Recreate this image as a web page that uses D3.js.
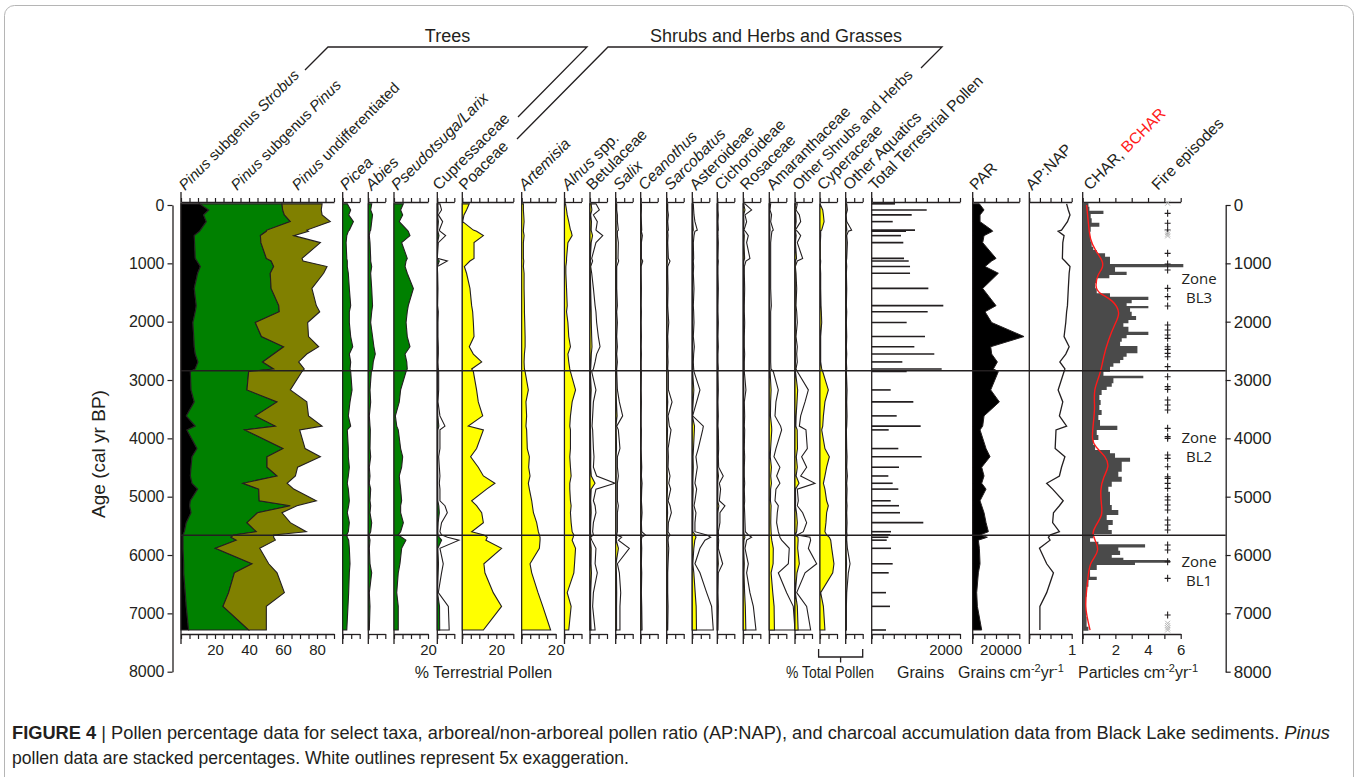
<!DOCTYPE html>
<html>
<head>
<meta charset="utf-8">
<script src="https://cdn.jsdelivr.net/npm/d3@7"></script>
<style>
  body { margin: 0; background: #fff; }
  svg { display: block; font-family: "Liberation Sans", Arial, Helvetica, sans-serif; }
  text { white-space: pre; }
</style>
</head>
<body>
<svg id="chart" width="1358" height="777"></svg>
<script>
// ---------------- data ----------------
// ages (cal yr BP) of the pollen samples
const sampleAges = [-20, 85, 170, 285, 430, 450, 525, 645, 915, 960, 1055, 1170, 1430, 1725, 1830, 2015, 2255, 2430, 2555, 2690, 2810, 2855, 3170, 3375, 3615, 3790, 3855, 4175, 4315, 4495, 4645, 4770, 4870, 5070, 5155, 5275, 5445, 5600, 5655, 5695, 5745, 5885, 6150, 6305, 6645, 6880, 7285];

// Pinus percentages (stacked in the first panel)
const pinusStrobus = [11, 16.3, 13.3, 14.9, 11.4, 11, 7.8, 8, 8.4, 9.4, 11.4, 9.8, 7.8, 9, 8.4, 7, 7.5, 7.8, 8.4, 10, 8.4, 5.5, 5.9, 7.8, 3.1, 8.4, 3.5, 9.4, 6.5, 5.9, 5.5, 6.5, 9.8, 5.5, 5.1, 5.9, 3.1, 2, 1.2, 1.2, 1.2, 1.2, 1.6, 1.6, 2.5, 3.1, 4.5];
const pinusSubPinus = [48.4, 43.5, 47.5, 49.4, 39.2, 39.2, 38.9, 39, 41.8, 43.6, 43.1, 42.7, 45.2, 48.5, 49.4, 36.7, 39.8, 52.6, 46.1, 38, 46.1, 34.3, 32.9, 48.7, 40.6, 47.1, 34, 50.6, 44.1, 44.7, 51, 30, 35.9, 40.5, 59.2, 39.1, 35.7, 42.3, 29.8, 28.2, 31.3, 19, 40.2, 29.8, 25.5, 21.6, 35.3];
const pinusUndiff = [23.6, 22.7, 22.2, 23.5, 23.4, 24.8, 19.6, 35, 21, 18.8, 31.4, 31.4, 24, 22.1, 23.8, 30.8, 27.7, 20.6, 19.5, 21.2, 18, 31.4, 25.5, 17.5, 31.3, 27.5, 32.3, 13, 31.4, 18, 10.8, 25.9, 20.6, 33.6, 3.9, 14.4, 25.5, 29.4, 23.5, 25.1, 23, 26.1, 9.8, 25.1, 32.8, 25.5, 10.4];

// other trees (% terrestrial pollen)
const picea = [2.7, 4.7, 3.5, 6.3, 3.9, 3.3, 2.4, 2, 2.4, 2.7, 2.7, 3.3, 3.9, 4.7, 3.9, 3.9, 4.7, 5.9, 3.9, 4.7, 4.3, 4.7, 5.5, 4.3, 3.3, 4.7, 2.7, 3.3, 3.3, 3.9, 3.3, 2.7, 3.3, 3.9, 3.5, 2.7, 3.9, 3.3, 2.4, 2.7, 3.5, 3.9, 4.3, 3.9, 3.5, 3.1, 2.4];
const abies = [2, 1.4, 2.5, 2, 1.4, 1, 0.6, 1, 1.4, 1.4, 2, 1.4, 2, 2.5, 2, 1.4, 2.5, 3.3, 4.1, 2.9, 2.5, 1.8, 1, 1.4, 0.6, 1, 1.2, 1, 1.4, 0.6, 1, 0.6, 1.4, 1, 1.4, 1, 2, 1.4, 0.6, 0.6, 1, 0.6, 1, 2, 0.6, 1, 0.6];
const pseudotsugaLarix = [5.5, 3.9, 5.1, 3.1, 7.8, 8.4, 9.4, 4.5, 7.8, 7.1, 6.5, 7.8, 11.4, 8.4, 7.8, 7.1, 7.8, 9.4, 6.5, 7.5, 7.8, 7.1, 3.9, 3.1, 0.8, 1.6, 2.5, 3.9, 5.1, 4.5, 3.1, 3.5, 3.9, 4.5, 3.9, 3.9, 5.5, 3.9, 2.5, 4.5, 7, 4.5, 3.5, 2.5, 1.6, 2.5, 2.5];
const cupressaceae = [0.31, 0.5, 0.12, 0.63, 0.24, 0.31, 0.98, 0.12, 0, 1.18, 0, 0.04, 0.08, 0.04, 0.12, 0.08, 0.08, 0.12, 0.12, 0.08, 0.12, 0.16, 0.16, 0.08, 0.31, 0.9, 0.31, 0.31, 0.16, 0.24, 0.31, 0.24, 0.31, 0.31, 0.9, 1.18, 0.5, 0.31, 0.5, 1.2, 2.55, 0.31, 0.7, 0.5, 0.12, 1.3, 1.4];

// shrubs, herbs and grasses (% terrestrial pollen)
const poaceae = [4.1, 2.5, 1, 0.2, 6.5, 8.4, 12.4, 6.9, 6.9, 4.5, 1.2, 2.5, 4.5, 5.5, 6.1, 6.5, 6.9, 4.1, 6.5, 11.4, 5.5, 6.5, 8.4, 9.4, 12, 3.5, 12.4, 8.4, 4.9, 9.4, 12.4, 19.2, 14.3, 5.5, 8.4, 11.4, 12.4, 5.5, 12.7, 14.7, 13.9, 23.1, 12.7, 13.3, 18.2, 23.1, 12.4];
const artemisia = [1, 1, 1.2, 1.4, 1, 1, 1.4, 1, 1, 1.2, 1, 1.4, 1.4, 1.6, 1.6, 1.8, 2, 2, 1.6, 1.4, 1.6, 2, 3.9, 2.5, 2.9, 2.5, 2.9, 3.3, 4.5, 4.1, 4.9, 3.9, 4.5, 5.9, 6.3, 6.9, 8.8, 9.8, 10.4, 10.8, 10.8, 10.4, 4.9, 5.9, 9.6, 12.4, 17];
const alnus = [0.6, 1.2, 1.6, 2.5, 3.5, 3.9, 4.5, 2, 1.2, 1.2, 0.8, 0.8, 1.2, 1.6, 1.2, 2, 2.5, 3.5, 2, 2.5, 3.1, 3.5, 6.5, 4.5, 3.5, 3.1, 3.5, 3.5, 3.1, 3.5, 3.9, 3.1, 3.1, 3.5, 3.9, 3.5, 3.9, 4.5, 5.5, 5.1, 4.5, 6.5, 5.9, 5.5, 1.6, 3.9, 2.5];
const betulaceae = [0.7, 1.1, 0.4, 0.86, 0.7, 0.86, 1.5, 0.7, 0.2, 0.31, 0.08, 0.2, 0.4, 0.6, 0.7, 0.78, 0.98, 1.18, 0.78, 0.6, 0.4, 0.2, 0.7, 0.4, 0.31, 0.24, 0.31, 0.4, 0.47, 0.4, 0.78, 2.94, 0.7, 0.4, 0.6, 0.7, 0.4, 0.31, 0.4, 0.08, 0.2, 0.7, 0.6, 0.86, 0.4, 0.31, 0.6];
const salix = [0.12, 0.12, 0.2, 0.2, 0.31, 0.2, 0.2, 0.31, 0.27, 0.35, 0.12, 0.12, 0.12, 0.2, 0.12, 0.2, 0.12, 0.2, 0.12, 0.2, 0.12, 0.12, 0.2, 0.43, 0.82, 0.12, 0.31, 0.5, 0.2, 0.2, 0.31, 0.2, 0.2, 0.2, 0.31, 0.2, 0.2, 0.2, 0.12, 0.7, 0.31, 1.6, 0.2, 0.43, 0.59, 0.5, 0.5];
const ceanothus = [0.08, 0.08, 0.04, 0.08, 0.12, 0.08, 0.2, 0.08, 0.08, 0.24, 0.04, 0.04, 0.08, 0.04, 0.08, 0.04, 0.08, 0.04, 0.08, 0.04, 0.04, 0.08, 0.04, 0.08, 0.04, 0.04, 0.08, 0.04, 0.08, 0.12, 0.08, 0.16, 0.12, 0.08, 0.12, 0.16, 0.08, 0.12, 0.55, 0.12, 0.08, 0.12, 0.08, 0.12, 0.08, 0.12, 0.16];
const sarcobatus = [0.12, 0.12, 0.2, 0.12, 0.2, 0.12, 0.16, 0.12, 0.2, 0.39, 0.12, 0.12, 0.16, 0.12, 0.16, 0.24, 0.12, 0.16, 0.12, 0.16, 0.12, 0.2, 0.2, 0.63, 0.16, 0.31, 0.51, 0.16, 0.2, 0.16, 0.39, 0.24, 0.47, 0.16, 0.39, 0.55, 0.2, 0.16, 0.39, 0.2, 0.16, 0.24, 0.16, 0.12, 0.12, 0.16, 0.12];
const asteroideae = [0.12, 0.16, 0.2, 0.31, 0.59, 0.31, 0.2, 0.12, 0.16, 0.12, 0.16, 0.12, 0.2, 0.12, 0.16, 0.2, 0.12, 0.24, 0.16, 0.12, 0.16, 0.2, 0.9, 0.51, 0.04, 1.3, 1.22, 0.7, 0.43, 0.59, 0.43, 0.31, 0.51, 0.31, 0.2, 0.43, 0.31, 0.31, 1.69, 2.16, 1.49, 0.9, 0.31, 0.9, 1.69, 2.27, 2.47];
const cichoroideae = [0.08, 0.08, 0.12, 0.08, 0.12, 0.08, 0.08, 0.12, 0.08, 0.12, 0.08, 0.08, 0.12, 0.08, 0.08, 0.12, 0.08, 0.12, 0.08, 0.08, 0.12, 0.08, 0.12, 0.08, 0.12, 0.08, 0.12, 0.16, 0.12, 0.16, 0.7, 0.24, 0.39, 0.24, 0.9, 0.31, 0.31, 0.12, 0.16, 0.12, 0.16, 0.12, 0.63, 0.12, 0.08, 0.12, 0.08];
const rosaceae = [0.2, 0.98, 0.2, 0.39, 0.08, 0.24, 0.59, 0.39, 0.78, 0.31, 0.12, 0.12, 0.16, 0.12, 0.12, 0.16, 0.12, 0.12, 0.16, 0.12, 0.12, 0.12, 0.31, 0.12, 0.16, 0.12, 0.16, 0.12, 0.16, 0.12, 0.12, 0.16, 0.12, 0.16, 0.12, 0.16, 0.2, 0.24, 0.59, 0.98, 0.39, 0.2, 0.59, 0.39, 0.78, 1.18, 1.49];
const amaranthaceae = [0.16, 0.08, 0.27, 0.16, 0.47, 0.31, 0.24, 0.16, 0.16, 0.16, 0.16, 0.16, 0.16, 0.24, 0.16, 0.16, 0.16, 0.16, 0.16, 0.16, 0.2, 0.47, 1.06, 0.78, 0.67, 1.33, 1.45, 0.78, 0.55, 1.25, 0.86, 1.25, 0.78, 0.67, 1.06, 0.94, 0.86, 1.06, 1.18, 1.25, 1.45, 2.35, 2.24, 1.06, 2.04, 2.82, 3.02];
const otherShrubsHerbs = [0.27, 0.12, 0.51, 0.67, 0.04, 0.27, 0.67, 0.27, 0.9, 0.27, 0.04, 0.12, 0.2, 0.12, 0.2, 0.27, 0.12, 0.27, 0.2, 0.27, 0.12, 0.27, 1.57, 1.18, 0.67, 0.51, 1.29, 1.45, 0.78, 1.37, 0.67, 2.35, 0.27, 0.39, 0.27, 0.9, 1.37, 0.98, 0.27, 1.76, 1.84, 1.57, 2.55, 1.18, 0.2, 1.37, 1.84];

// aquatics (% total pollen)
const cyperaceae = [0, 1.6, 2, 2.4, 1, 0.4, 0.4, 0.2, 0.2, 0.4, 0.2, 0.4, 0.4, 0.6, 0.8, 1, 0.4, 0.4, 0.4, 0.4, 1, 1.6, 4.9, 2.9, 2, 1.6, 1, 2.9, 5.5, 3.9, 2.9, 2, 2.9, 3.9, 4.9, 3.9, 3.5, 2.9, 3.9, 5.5, 6.3, 6.9, 8.2, 7.5, 0.4, 2, 2.9];
const otherAquatics = [0.12, 0.2, 0.04, 0.12, 0.7, 0.31, 0.12, 0.2, 0.12, 0.08, 0.12, 0.08, 0.12, 0.08, 0.12, 0.08, 0.12, 0.08, 0.12, 0.08, 0.12, 0.08, 0.16, 0.12, 0.16, 0.12, 0.08, 0.12, 0.16, 0.12, 0.2, 0.12, 0.16, 0.12, 0.16, 0.12, 0.16, 0.12, 0.16, 0.12, 0.12, 0.2, 0.51, 0.31, 0.12, 0.08, 0.08];

// pollen sums and ratios
const totalTerrestrial = [528, 1246, 906, 476, 981, 777, 663, 716, 732, 838, 868, 868, 1283, 1622, 1268, 792, 1207, 966, 1418, 694, 1585, 792, 430, 943, 566, 1109, 385, 603, 1132, 618, 377, 475, 603, 430, 618, 641, 1169, 437, 415, 377, 340, 437, 475, 385, 324, 415, 324];
const par = [2861, 4864, 3147, 3147, 8155, 8584, 4864, 4292, 10014, 8155, 5293, 11016, 4292, 10014, 5293, 8155, 22031, 7725, 8155, 10587, 8870, 11016, 7725, 11445, 4864, 4292, 3147, 5722, 7439, 3863, 4864, 3863, 5722, 3147, 3863, 4864, 5722, 6724, 3147, 6295, 2432, 2861, 3147, 2432, 1717, 2003, 3863];
const apNap = [0.88, 0.92, 0.96, 0.9, 0.76, 0.68, 0.82, 0.79, 0.78, 0.84, 0.96, 0.94, 0.92, 0.9, 0.88, 0.86, 0.82, 0.94, 0.86, 0.72, 0.84, 0.82, 0.68, 0.79, 0.71, 0.88, 0.63, 0.61, 0.84, 0.76, 0.71, 0.41, 0.55, 0.8, 0.71, 0.57, 0.55, 0.71, 0.5, 0.45, 0.49, 0.24, 0.41, 0.57, 0.41, 0.25, 0.25];

// charcoal accumulation (particles cm-2 yr-1)
const charAges = [-40, 29, 97, 154, 229, 303, 371, 457, 543, 629, 714, 771, 829, 886, 954, 1011, 1069, 1143, 1200, 1257, 1343, 1429, 1514, 1571, 1629, 1686, 1731, 1771, 1829, 1903, 1971, 2029, 2086, 2171, 2229, 2286, 2343, 2417, 2486, 2543, 2600, 2657, 2714, 2771, 2857, 2926, 2971, 3057, 3114, 3171, 3257, 3343, 3429, 3514, 3600, 3686, 3783, 3857, 3943, 4029, 4114, 4200, 4257, 4331, 4400, 4486, 4571, 4657, 4743, 4829, 4914, 5000, 5086, 5143, 5229, 5314, 5400, 5486, 5571, 5640, 5714, 5771, 5817, 5869, 5926, 6000, 6046, 6086, 6131, 6171, 6257, 6371, 6429, 6543, 6714, 6886, 7057, 7171, 7229, 7300];
const charValues = [0.35, 0.41, 1.27, 0.49, 0.55, 1.02, 0.49, 0.45, 0.49, 0.55, 0.65, 0.86, 1.37, 1.67, 1.67, 6.16, 1.98, 2.69, 1.63, 0.86, 0.76, 0.86, 1.67, 4.02, 3.0, 2.69, 4.02, 2.9, 3.0, 3.27, 2.8, 2.49, 2.8, 4.02, 2.69, 2.39, 2.29, 3.35, 3.35, 2.69, 2.49, 2.29, 1.88, 1.67, 1.27, 3.71, 1.88, 1.78, 1.47, 1.16, 1.02, 1.1, 1.02, 1.16, 0.96, 1.06, 2.12, 0.86, 0.96, 0.65, 0.76, 1.67, 1.98, 2.9, 2.39, 2.39, 2.18, 2.39, 1.78, 1.57, 1.67, 1.67, 1.67, 1.78, 2.18, 1.47, 1.84, 1.57, 1.78, 0.65, 0.45, 0.96, 3.82, 2.18, 2.29, 1.78, 2.49, 5.35, 3.2, 0.86, 0.45, 0.86, 0.35, 0.24, 0.2, 0.2, 0.24, 0.24, 0.35, 0.49];
// background charcoal (BCHAR)
const bcharAges = [0, 314, 600, 771, 971, 1086, 1200, 1400, 1514, 1629, 1857, 2029, 2314, 2600, 2886, 3171, 3457, 3743, 4029, 4143, 4314, 4486, 4657, 4886, 5171, 5314, 5514, 5629, 5800, 5914, 6029, 6143, 6314, 6600, 6886, 7171, 7286];
const bcharValues = [0.24, 0.35, 0.45, 0.76, 1.27, 1.22, 0.9, 0.76, 0.96, 1.88, 2.33, 1.98, 1.57, 1.27, 1.1, 0.65, 0.76, 0.65, 0.55, 0.76, 1.43, 1.63, 1.27, 1.06, 1.16, 1.22, 0.76, 0.55, 0.86, 0.96, 0.76, 0.45, 0.35, 0.24, 0.14, 0.35, 0.45];
// fire episodes and non-significant peaks
const fireEpisodeAges = [143, 314, 429, 829, 1011, 1114, 1429, 1571, 1731, 2057, 2143, 2229, 2286, 2429, 2474, 2543, 2600, 2771, 2943, 3114, 3160, 3343, 3429, 3514, 3829, 3971, 4000, 4286, 4343, 4486, 4657, 4686, 4771, 4857, 5000, 5057, 5143, 5229, 5400, 5486, 5571, 5829, 5914, 6114, 6400, 7029];
const minorPeakAges = [-30, 470, 500, 530, 7170, 7210, 7250, 7285];

// zones
const zoneBoundaries = [2842, 5660];
const zoneNames = [["Zone", "BL3"], ["Zone", "BL2"], ["Zone", "BL1"]];
const zoneLabelAges = [1350, 4080, 6200];
const ageTicks = [0, 1000, 2000, 3000, 4000, 5000, 6000, 7000, 8000];

// ---------------- drawing ----------------
const ink = "#231f20";
const GREEN = "#008000", OLIVE = "#808000", YELLOW = "#ffff00", RED = "#ff1a1a", CHARGREY = "#4a4a4a";
const FONT = "'Liberation Sans', Arial, Helvetica, sans-serif";
const svg = d3.select("#chart");

svg.append("rect").attr("x", 4.5).attr("y", 5.5).attr("width", 1349).attr("height", 820)
  .attr("rx", 10).attr("fill", "none").attr("stroke", "#b5b5b5").attr("stroke-width", 1);

const y = d3.scaleLinear().domain([0, 8000]).range([205, 671.7]);
const PX = 1.7;                       // pixels per percent
const pct = (left, max) => d3.scaleLinear().domain([0, max]).range([left, left + max * PX]);
const rows = vals => sampleAges.map((a, i) => ({ age: a, v: vals[i] }));

const gFrames = svg.append("g");
const gData = svg.append("g");
const gTop = svg.append("g");

// panel frame: vertical axis, top and bottom tick axes
function frame(x, step, labels, opts = {}) {
  const [x0] = x.range();
  const [d0, d1] = x.domain();
  const ticks = d3.range(d0, d1 + step / 2, step);
  const g = gFrames.append("g");
  g.append("line").attr("x1", x0).attr("x2", x0).attr("y1", 192).attr("y2", 644)
    .attr("stroke", ink).attr("stroke-width", 1.3);
  const top = g.append("g").attr("transform", "translate(0,202)")
    .call(d3.axisTop(x).tickValues(ticks).tickSize(4).tickSizeOuter(0).tickFormat(""));
  const bot = g.append("g").attr("transform", "translate(0,634)")
    .call(d3.axisBottom(x).tickValues(ticks).tickSize(5).tickSizeOuter(0).tickPadding(5)
      .tickFormat(d => labels.some(l => Math.abs(l - d) < 1e-9) ? (opts.fmt || d3.format("d"))(d) : ""));
  [top, bot].forEach(a => {
    a.select(".domain").attr("stroke", ink).attr("stroke-width", 1.3);
    a.selectAll(".tick line").attr("stroke", ink).attr("stroke-width", 1.2);
  });
  bot.selectAll("text").attr("font-size", 15).attr("font-family", FONT).attr("fill", ink);
  if (opts.anchorEnd) bot.selectAll("text").attr("text-anchor", "end").attr("dx", 2);
}

function fillArea(x, vals, fill, k = 1) {
  const area = d3.area().y(d => y(d.age)).x0(x(0)).x1(d => x(d.v * k));
  gData.append("path").datum(rows(vals)).attr("d", area)
    .attr("fill", fill).attr("stroke", ink).attr("stroke-width", 1.1).attr("stroke-linejoin", "miter");
}

// ---- stacked Pinus ----
const xPinus = pct(181, 90);
frame(xPinus, 5, [20, 40, 60, 80]);
const pinusRows = sampleAges.map((a, i) => ({ age: a, strobus: pinusStrobus[i], sub: pinusSubPinus[i], undiff: pinusUndiff[i] }));
const stacked = d3.stack().keys(["strobus", "sub", "undiff"])(pinusRows);
const pinusColors = ["#000000", GREEN, OLIVE];
stacked.forEach((s, i) => {
  const area = d3.area().y(d => y(d.data.age)).x0(d => xPinus(d[0])).x1(d => xPinus(d[1]));
  gData.append("path").datum(s).attr("d", area).attr("fill", pinusColors[i])
    .attr("stroke", ink).attr("stroke-width", 1.1);
});

// ---- single taxon panels ----
const taxa = [
  { vals: picea, left: 342.7, max: 10, fill: GREEN },
  { vals: abies, left: 368.3, max: 10, fill: GREEN },
  { vals: pseudotsugaLarix, left: 394, max: 20, fill: GREEN, labels: [20] },
  { vals: cupressaceae, left: 437.3, max: 10, fill: GREEN, exag: true },
  { vals: poaceae, left: 462.3, max: 30, fill: YELLOW, labels: [20] },
  { vals: artemisia, left: 521.7, max: 20, fill: YELLOW, labels: [20] },
  { vals: alnus, left: 564.5, max: 10, fill: YELLOW },
  { vals: betulaceae, left: 590, max: 10, fill: YELLOW, exag: true },
  { vals: salix, left: 615.7, max: 10, fill: YELLOW, exag: true },
  { vals: ceanothus, left: 640.7, max: 10, fill: YELLOW, exag: true },
  { vals: sarcobatus, left: 666.7, max: 10, fill: YELLOW, exag: true },
  { vals: asteroideae, left: 692.3, max: 10, fill: YELLOW, exag: true },
  { vals: cichoroideae, left: 717.3, max: 10, fill: YELLOW, exag: true },
  { vals: rosaceae, left: 743.3, max: 10, fill: YELLOW, exag: true },
  { vals: amaranthaceae, left: 769.3, max: 10, fill: YELLOW, exag: true },
  { vals: otherShrubsHerbs, left: 795, max: 10, fill: YELLOW, exag: true },
  { vals: cyperaceae, left: 820, max: 10, fill: YELLOW },
  { vals: otherAquatics, left: 845.7, max: 10, fill: YELLOW, exag: true }
];
taxa.forEach(t => {
  const x = pct(t.left, t.max);
  frame(x, 5, t.labels || []);
  if (t.exag) fillArea(x, t.vals, "#ffffff", 5);   // 5x exaggeration outline
  fillArea(x, t.vals, t.fill);
});

// ---- total terrestrial pollen (grains) ----
const xTT = d3.scaleLinear().domain([0, 2000]).range([871.7, 960]);
frame(xTT, 250, [2000], { anchorEnd: true });
gData.append("g").selectAll("line").data(rows(totalTerrestrial)).join("line")
  .attr("x1", xTT(0)).attr("x2", d => xTT(d.v)).attr("y1", d => y(d.age)).attr("y2", d => y(d.age))
  .attr("stroke", ink).attr("stroke-width", 1.6);

// ---- pollen accumulation rate ----
const xPAR = d3.scaleLinear().domain([0, 20000]).range([972.7, 1019.3]);
frame(xPAR, 5000, [20000], { anchorEnd: true });
gData.append("path").datum(rows(par))
  .attr("d", d3.area().y(d => y(d.age)).x0(xPAR(0)).x1(d => xPAR(d.v)))
  .attr("fill", "#000").attr("stroke", ink).attr("stroke-width", 1);

// ---- AP:NAP ----
const xAP = d3.scaleLinear().domain([0, 1]).range([1029.3, 1071.7]);
frame(xAP, 0.25, [1]);
gData.append("path").datum(rows(apNap))
  .attr("d", d3.line().x(d => xAP(d.v)).y(d => y(d.age)))
  .attr("fill", "none").attr("stroke", ink).attr("stroke-width", 1.3);

// ---- charcoal ----
const xCH = d3.scaleLinear().domain([0, 6]).range([1082.7, 1180.7]);
frame(xCH, 1, [2, 4, 6]);
const charRows = charAges.map((a, i) => ({ age: a, v: charValues[i] }));
gData.append("path").datum(charRows)
  .attr("d", d3.area().curve(d3.curveStepBefore).y(d => y(d.age)).x0(xCH(0)).x1(d => xCH(d.v)))
  .attr("fill", CHARGREY).attr("stroke", "none");
const bRows = bcharAges.map((a, i) => ({ age: a, v: bcharValues[i] }));
gData.append("path").datum(bRows)
  .attr("d", d3.line().curve(d3.curveBasis).x(d => xCH(d.v)).y(d => y(d.age)))
  .attr("fill", "none").attr("stroke", RED).attr("stroke-width", 1.4);
const fireX = xCH(5.2);
gData.append("g").selectAll("path").data(fireEpisodeAges).join("path")
  .attr("d", a => `M${fireX - 3},${y(a)}H${fireX + 3}M${fireX},${y(a) - 3.5}V${y(a) + 3.5}`)
  .attr("stroke", ink).attr("stroke-width", 1.1).attr("fill", "none");
gData.append("g").selectAll("path").data(minorPeakAges).join("path")
  .attr("d", a => `M${fireX - 2.5},${y(a) - 2.5}L${fireX + 2.5},${y(a) + 2.5}M${fireX - 2.5},${y(a) + 2.5}L${fireX + 2.5},${y(a) - 2.5}`)
  .attr("stroke", "#b8b8b8").attr("stroke-width", 1).attr("fill", "none");

// ---- zone boundaries ----
gTop.selectAll("line.zone").data(zoneBoundaries).join("line").attr("class", "zone")
  .attr("x1", 181).attr("x2", 1225.7).attr("y1", d => y(d)).attr("y2", d => y(d))
  .attr("stroke", ink).attr("stroke-width", 1.5);
zoneNames.forEach((lines, i) => {
  const t = gTop.append("text").attr("x", 1199).attr("y", y(zoneLabelAges[i]))
    .attr("text-anchor", "middle").attr("font-family", "'Open Sans', 'Noto Sans', sans-serif")
    .attr("font-size", 15).attr("fill", ink);
  lines.forEach((s, j) => t.append("tspan").attr("x", 1199).attr("dy", j ? 19 : 0).text(s));
});

// ---- age axes ----
const axL = gTop.append("g").attr("transform", "translate(172.5,0)")
  .call(d3.axisLeft(y).tickValues(ageTicks).tickSize(5).tickSizeOuter(0).tickPadding(3).tickFormat(d3.format("d")));
const axR = gTop.append("g").attr("transform", "translate(1225.7,0)")
  .call(d3.axisRight(y).tickValues(ageTicks).tickSize(5).tickSizeOuter(0).tickPadding(3).tickFormat(d3.format("d")));
[axL, axR].forEach((a, i) => {
  a.select(".domain").attr("stroke", ink).attr("stroke-width", 1.3);
  a.selectAll(".tick line").attr("stroke", ink).attr("stroke-width", 1.2);
  a.selectAll("text").attr("font-size", i ? 17 : 16).attr("font-family", FONT).attr("fill", ink);
});
gTop.append("text").attr("transform", "translate(105,454) rotate(-90)").attr("text-anchor", "middle")
  .attr("font-size", 19).attr("fill", ink).text("Age (cal yr BP)");

// ---- rotated taxon labels ----
const labels = [
  [185, [["Pinus", "i"], [" subgenus ", ""], ["Strobus", "i"]], 15],
  [237, [["Pinus", "i"], [" subgenus ", ""], ["Pinus", "i"]], 15],
  [298, [["Pinus", "i"], [" undifferentiated", ""]], 15],
  [346.2, [["Picea", "i"]]],
  [371.8, [["Abies", "i"]]],
  [397.5, [["Pseudotsuga/Larix", "i"]]],
  [439, [["Cupressaceae", ""]]],
  [465.3, [["Poaceae", ""]]],
  [525, [["Artemisia", "i"]]],
  [568, [["Alnus", "i"], [" spp.", ""]]],
  [592.5, [["Betulaceae", ""]]],
  [619.5, [["Salix", "i"]]],
  [644.5, [["Ceanothus", "i"]]],
  [670.5, [["Sarcobatus", "i"]]],
  [696, [["Asteroideae", ""]]],
  [721, [["Cichoroideae", ""]]],
  [746.5, [["Rosaceae", ""]]],
  [773, [["Amaranthaceae", ""]]],
  [798.5, [["Other Shrubs and Herbs", ""]], 15],
  [823.5, [["Cyperaceae", ""]]],
  [849.5, [["Other Aquatics", ""]]],
  [875, [["Total Terrestrial Pollen", ""]]],
  [976, [["PAR", ""]]],
  [1032, [["AP:NAP", ""]]],
  [1090, [["CHAR, ", ""], ["BCHAR", "r"]]],
  [1158, [["Fire episodes", ""]]]
];
labels.forEach(([x, parts, size]) => {
  const t = gTop.append("text").attr("transform", `translate(${x},191) rotate(-45)`)
    .attr("font-size", size || 15.7).attr("fill", ink);
  parts.forEach(([s, st]) => {
    const ts = t.append("tspan").text(s);
    if (st === "i") ts.attr("font-style", "italic");
    if (st === "r") ts.attr("fill", RED);
  });
});

// ---- group brackets ----
const bracket = pts => gTop.append("path").attr("d", d3.line()(pts))
  .attr("fill", "none").attr("stroke", ink).attr("stroke-width", 1.3);
bracket([[305, 70], [328, 47], [587, 47], [518, 117]]);
bracket([[517, 139], [608, 47], [942, 47], [921, 68]]);
gTop.append("text").attr("x", 447.5).attr("y", 41.5).attr("text-anchor", "middle")
  .attr("font-size", 18).attr("fill", ink).text("Trees");
gTop.append("text").attr("x", 776).attr("y", 41.5).attr("text-anchor", "middle")
  .attr("font-size", 18).attr("fill", ink).text("Shrubs and Herbs and Grasses");

// ---- axis titles ----
const titleY = 678;
gTop.append("text").attr("x", 483.5).attr("y", titleY).attr("text-anchor", "middle")
  .attr("font-size", 16).attr("fill", ink).text("% Terrestrial Pollen");
gTop.append("path").attr("d", "M818.6,649V657H862.7V649M840.6,657V662.5")
  .attr("fill", "none").attr("stroke", ink).attr("stroke-width", 1.3);
gTop.append("text").attr("x", 786).attr("y", titleY).attr("font-size", 16).attr("fill", ink)
  .attr("textLength", 88).attr("lengthAdjust", "spacingAndGlyphs").text("% Total Pollen");
gTop.append("text").attr("x", 897).attr("y", titleY).attr("font-size", 16).attr("fill", ink).text("Grains");
function unitLabel(x, lead) {
  const t = gTop.append("text").attr("x", x).attr("y", titleY).attr("font-size", 16).attr("fill", ink);
  t.append("tspan").text(lead + " cm");
  t.append("tspan").attr("font-size", 11).attr("dy", -6).text("-2");
  t.append("tspan").attr("dy", 6).text("yr");
  t.append("tspan").attr("font-size", 11).attr("dy", -6).text("-1");
}
unitLabel(958, "Grains");
unitLabel(1078, "Particles");

// ---- caption ----
const cap1 = svg.append("text").attr("x", 12).attr("y", 739).attr("font-size", 17.5).attr("fill", ink)
  .attr("textLength", 1318).attr("lengthAdjust", "spacingAndGlyphs");
cap1.append("tspan").attr("font-weight", "bold").text("FIGURE 4");
cap1.append("tspan").text(" | Pollen percentage data for select taxa, arboreal/non-arboreal pollen ratio (AP:NAP), and charcoal accumulation data from Black Lake sediments. ");
cap1.append("tspan").attr("font-style", "italic").text("Pinus");
svg.append("text").attr("x", 12).attr("y", 764).attr("font-size", 17.5).attr("fill", ink)
  .attr("textLength", 617).attr("lengthAdjust", "spacingAndGlyphs")
  .text("pollen data are stacked percentages. White outlines represent 5x exaggeration.");
</script>
</body>
</html>
